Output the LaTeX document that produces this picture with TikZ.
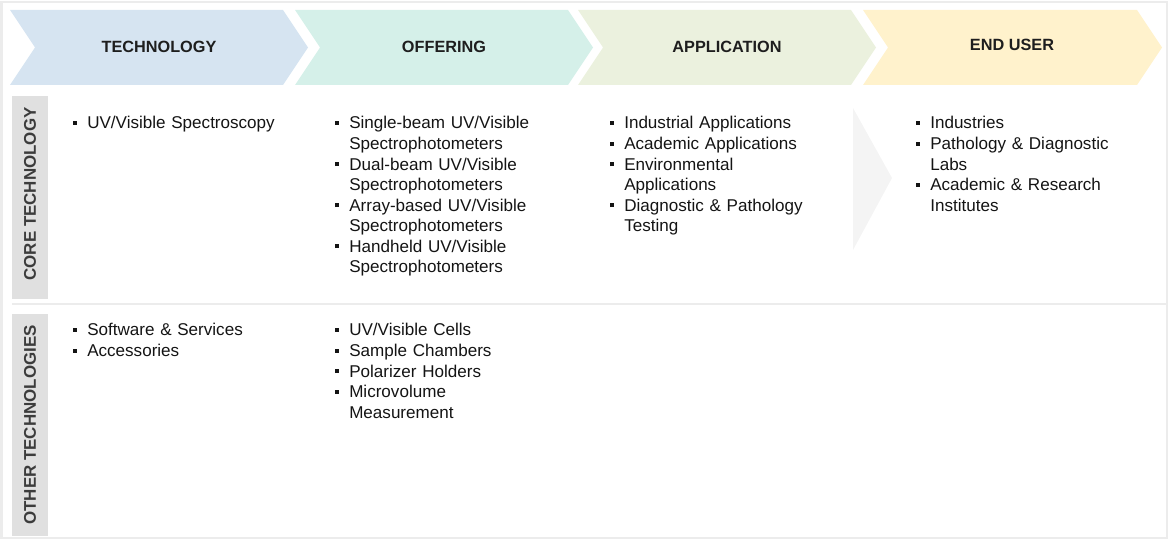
\documentclass[tikz,border=0pt]{standalone}
\usepackage{fontspec}
\setmainfont{Liberation Sans}
\definecolor{techc}{RGB}{214,228,241}
\definecolor{offc}{RGB}{213,240,233}
\definecolor{appc}{RGB}{235,241,222}
\definecolor{endc}{RGB}{255,242,204}
\definecolor{frame}{RGB}{236,236,236}
\definecolor{sideg}{RGB}{224,224,224}
\definecolor{headc}{RGB}{30,30,30}
\definecolor{sidet}{RGB}{60,60,60}
\definecolor{txt}{RGB}{20,20,20}
\definecolor{ghost}{RGB}{244,244,244}
\newcommand\itm[1]{\noindent\hangindent=10.5pt\hangafter=1\makebox[10.5pt][l]{\raisebox{3pt}{\rule{3pt}{3pt}}}#1\par}
\tikzset{
  head/.style={font=\bfseries\fontsize{12.2}{14}\selectfont, text=headc, inner sep=0pt},
  lst/.style={anchor=base west, text width=230pt, inner sep=0pt, text=txt,
              font=\fontsize{12.8}{15.4}\selectfont\raggedright},
  sidebox/.style={fill=sideg, draw=none},
  sidelbl/.style={rotate=90, font=\bfseries\fontsize{12.7}{14}\selectfont, text=sidet, inner sep=0pt},
  framel/.style={draw=frame, line width=1.5pt}
}
\begin{document}
\begin{tikzpicture}[x=0.75pt,y=-0.75pt]
\useasboundingbox (0,0) rectangle (1170,541);
% frame
\draw[framel] (1.5,2) rectangle (1167,537.5);
\draw[framel] (12,304.5) -- (1167,304.5);
% chevrons
\fill[techc] (10,10) -- (283,10) -- (308,47.5) -- (283,85) -- (10,85) -- (35,47.5) -- cycle;
\fill[offc] (295,10) -- (568,10) -- (593,47.5) -- (568,85) -- (295,85) -- (320,47.5) -- cycle;
\fill[appc] (578,10) -- (851,10) -- (876,47.5) -- (851,85) -- (578,85) -- (603,47.5) -- cycle;
\fill[endc] (863,10) -- (1137,10) -- (1162,47.5) -- (1137,85) -- (863,85) -- (888,47.5) -- cycle;
\node[head] (h1) at (159,47) {TECHNOLOGY};
\node[head] (h2) at (444,47) {OFFERING};
\node[head] (h3) at (727,47) {APPLICATION};
\node[head] (h4) at (1012,45) {END USER};
% side labels
\fill[sidebox] (12,96) rectangle (48,299);
\fill[sidebox] (12,314) rectangle (48,536);
\node[sidelbl] (s1) at (30,194) {CORE TECHNOLOGY};
\node[sidelbl] (s2) at (30,425) {OTHER TECHNOLOGIES};
% ghost arrow
\fill[ghost] (853,108) -- (892,178) -- (853,250) -- cycle;
% core row lists
\node[lst] (c1) at (73,129) {\itm{UV/Visible Spectroscopy}};
\node[lst] (c2) at (335,129) {\itm{Single-beam UV/Visible\newline Spectrophotometers}
\itm{Dual-beam UV/Visible\newline Spectrophotometers}
\itm{Array-based UV/Visible\newline Spectrophotometers}
\itm{Handheld UV/Visible\newline Spectrophotometers}};
\node[lst] (c3) at (610,129) {\itm{Industrial Applications}
\itm{Academic Applications}
\itm{Environmental\newline Applications}
\itm{Diagnostic \& Pathology\newline Testing}};
\node[lst] (c4) at (916,129) {\itm{Industries}
\itm{Pathology \& Diagnostic\newline Labs}
\itm{Academic \& Research\newline Institutes}};
% other row lists
\node[lst] (o1) at (73,336) {\itm{Software \& Services}
\itm{Accessories}};
\node[lst] (o2) at (335,336) {\itm{UV/Visible Cells}
\itm{Sample Chambers}
\itm{Polarizer Holders}
\itm{Microvolume\newline Measurement}};
\end{tikzpicture}
\end{document}
